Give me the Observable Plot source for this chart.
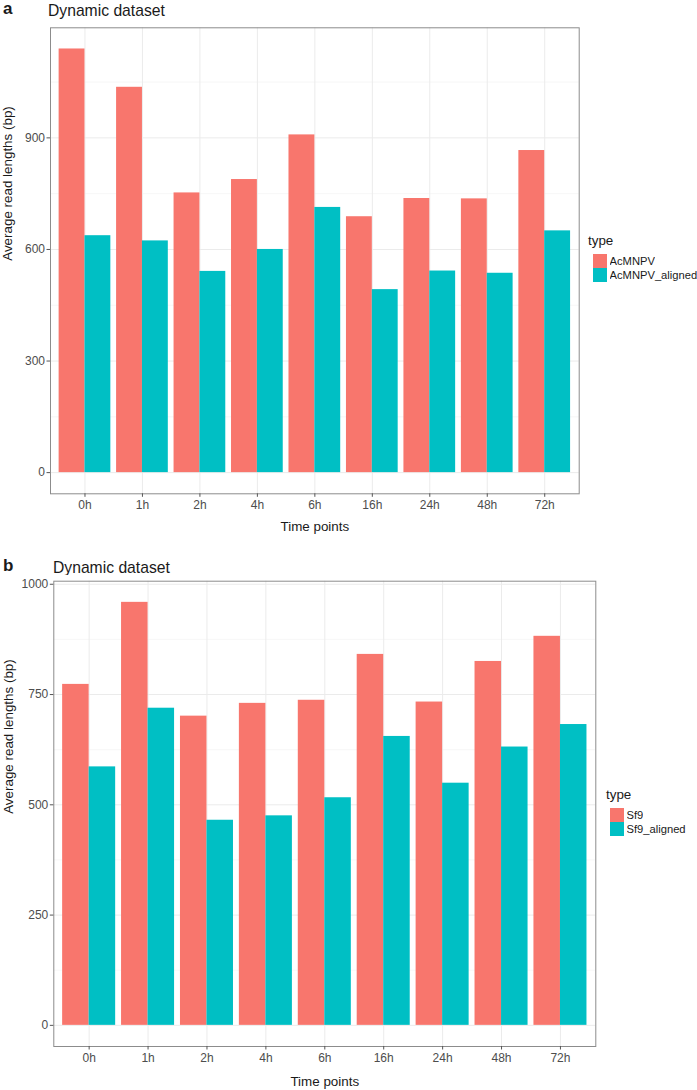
<!DOCTYPE html>
<html>
<head>
<meta charset="utf-8">
<script src="https://cdn.jsdelivr.net/npm/d3@7"></script>
<script src="https://cdn.jsdelivr.net/npm/@observablehq/plot@0.6"></script>
<style>
  html, body { margin: 0; padding: 0; background: #fff; }
  body { width: 697px; height: 1090px; position: relative; overflow: hidden;
         font-family: "Liberation Sans", Arial, Helvetica, sans-serif; }
  .abs { position: absolute; }
  .tag { font-weight: bold; font-size: 17px; color: #1a1a1a; line-height: 1; }
  .title { font-size: 15.7px; color: #1a1a1a; line-height: 1; white-space: nowrap; }
  .legtitle { font-size: 13.4px; color: #1a1a1a; line-height: 1; }
  .lg-swatches { font-family: "Liberation Sans", Arial, sans-serif !important; font-size: 11.2px !important; color: #1a1a1a; margin: 0 !important; columns: auto !important; }
  .lg-swatch { display: flex !important; align-items: center; padding: 0 !important; height: 14px; margin: 0 !important; }
  .lg-swatch > svg { margin-right: 2.5px !important; }
  .lg-swatch::before { content: none !important; }
  svg [aria-label$="tick label"], svg [aria-label$="tick label"] text { font-size: 12px !important; }
</style>
</head>
<body>
<div id="root"></div>
<script>
// ---- data ----
const timePoints = ["0h", "1h", "2h", "4h", "6h", "16h", "24h", "48h", "72h"];

const typesA = ["AcMNPV", "AcMNPV_aligned"];
const acmnpv = [1139, 1036, 752, 788, 908, 688, 737, 736, 866];
const acmnpvAligned = [637, 623, 541, 600, 713, 492, 542, 536, 650];
const yTicksA = [0, 300, 600, 900];

const typesB = ["Sf9", "Sf9_aligned"];
const sf9 = [773, 959, 701, 730, 737, 841, 733, 825, 882];
const sf9Aligned = [586, 719, 465, 475, 516, 655, 549, 631, 682];
const yTicksB = [0, 250, 500, 750, 1000];

const typeColors = ["#F8766D", "#00BFC4"];

const root = document.getElementById("root");

function addText(cls, text, left, top) {
  const d = document.createElement("div");
  d.className = "abs " + cls;
  d.textContent = text;
  d.style.left = left + "px";
  d.style.top = top + "px";
  root.appendChild(d);
  return d;
}

function panel(cfg) {
  const rows = cfg.times.flatMap((t, i) => [
    {i, time: t, type: cfg.types[0], value: cfg.s1[i], k: 0},
    {i, time: t, type: cfg.types[1], value: cfg.s2[i], k: 1}
  ]);
  const half = 0.9 / 2; // ggplot dodge width 0.9
  const max = d3.max(rows, d => d.value);
  const lo = -0.05 * max, hi = 1.05 * max;
  const step = cfg.yTicks[1] - cfg.yTicks[0];
  const minor = cfg.yTicks.map(v => v + step / 2).concat([cfg.yTicks[0] - step / 2]).filter(v => v > lo && v < hi);
  const idx = d3.range(cfg.times.length);
  const plot = Plot.plot({
    width: cfg.width,
    height: cfg.height,
    marginLeft: cfg.marginLeft,
    marginRight: cfg.marginRight,
    marginTop: cfg.marginTop,
    marginBottom: cfg.marginBottom,
    style: {fontFamily: "'Liberation Sans', Arial, sans-serif", fontSize: "12px", color: "#4d4d4d", background: "white", overflow: "visible"},
    x: {domain: [-0.6, cfg.times.length - 0.4], axis: null},
    y: {domain: [lo, hi], axis: null},
    color: {domain: cfg.types, range: typeColors},
    marks: [
      Plot.ruleY(minor, {stroke: "#f3f3f3", strokeWidth: 0.7}),
      Plot.ruleY(cfg.yTicks, {stroke: "#ebebeb", strokeWidth: 1}),
      Plot.ruleX(idx, {stroke: "#ebebeb", strokeWidth: 1}),
      Plot.rectY(rows, {
        x1: d => d.i - half + d.k * half,
        x2: d => d.i + d.k * half,
        y: "value",
        fill: "type"
      }),
      Plot.frame({stroke: "#8c8c8c", strokeWidth: 1}),
      Plot.axisX({ticks: idx, tickFormat: i => cfg.times[i], tickSize: 3.5, tickPadding: 3, stroke: "#555", fill: "#4d4d4d", fontSize: 12, label: null}),
      Plot.axisY({ticks: cfg.yTicks, tickFormat: d => String(d), tickSize: 3.5, tickPadding: 2, stroke: "#555", fill: "#4d4d4d", fontSize: 12, label: null}),
      Plot.text([cfg.xLabel], {text: d => d, frameAnchor: "bottom", lineAnchor: "bottom", dy: cfg.xLabelDy, fill: "#1a1a1a", fontSize: 13.4}),
      Plot.text([cfg.yLabel], {text: d => d, frameAnchor: "left", rotate: -90, lineAnchor: "middle", dx: cfg.yLabelDx, fill: "#1a1a1a", fontSize: 13.4})
    ]
  });
  plot.style.position = "absolute";
  plot.style.left = cfg.left + "px";
  plot.style.top = cfg.top + "px";
  root.appendChild(plot);

  // legend
  addText("legtitle", "type", cfg.legendX, cfg.legendY);
  const lg = plot.legend("color", {columns: 1, swatchSize: 14, className: "lg"});
  const wrap = document.createElement("div");
  wrap.className = "abs";
  wrap.style.left = (cfg.legendX + cfg.keyOffset) + "px";
  wrap.style.top = (cfg.legendY + 20) + "px";
  wrap.appendChild(lg);
  root.appendChild(wrap);
}

// Panel a
addText("tag", "a", 3, 0);
addText("title", "Dynamic dataset", 48, 3);
panel({
  times: timePoints, types: typesA, s1: acmnpv, s2: acmnpvAligned, yTicks: yTicksA,
  left: 0, top: 20, width: 580, height: 520,
  marginLeft: 50, marginRight: 1.3, marginTop: 7.3, marginBottom: 46.7,
  xLabel: "Time points", xLabelDy: 37, yLabel: "Average read lengths (bp)", yLabelDx: -43,
  legendX: 588, legendY: 234, keyOffset: 5
});

// Panel b
addText("tag", "b", 3, 557);
addText("title", "Dynamic dataset", 53, 560);
panel({
  times: timePoints, types: typesB, s1: sf9, s2: sf9Aligned, yTicks: yTicksB,
  left: 0, top: 575, width: 597, height: 515,
  marginLeft: 53.3, marginRight: 1.7, marginTop: 5.7, marginBottom: 44,
  xLabel: "Time points", xLabelDy: 39, yLabel: "Average read lengths (bp)", yLabelDx: -45,
  legendX: 606, legendY: 788, keyOffset: 4
});
</script>
</body>
</html>
